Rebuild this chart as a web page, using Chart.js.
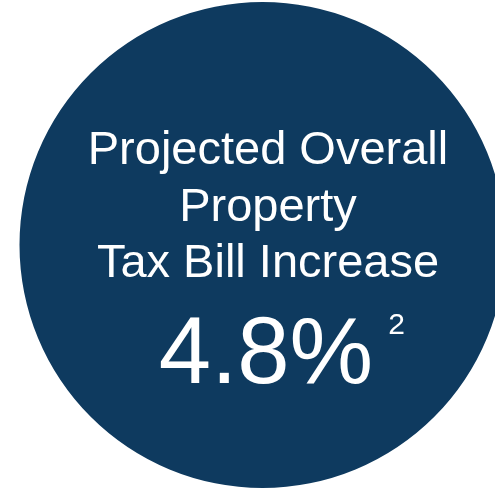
<!DOCTYPE html>
<html>
<head>
<meta charset="utf-8">
<script src="https://cdn.jsdelivr.net/npm/chart.js@4"></script>
<style>
  html, body { margin: 0; padding: 0; background: #fff; overflow: hidden; }
  #wrap { width: 495px; height: 490px; overflow: hidden; position: relative; }
  #taxChart { position: absolute; left: 0; top: 0; }
</style>
</head>
<body>
<div id="wrap"><canvas id="taxChart" width="525" height="490"></canvas></div>
<script>
// data from the picture
const labels = ['Projected Overall Property Tax Bill Increase'];
const values = [4.8];
const titleLines = ['Projected Overall', 'Property', 'Tax Bill Increase'];
const valueText = '4.8%';
const footnote = '2';

const navy = '#0e3a5f';

// writes the label and the big number on top of the circle
const centerText = {
    id: 'centerText',
    afterDraw(chart) {
        const ctx = chart.ctx;
        ctx.save();
        ctx.fillStyle = '#ffffff';
        ctx.textAlign = 'center';
        ctx.textBaseline = 'alphabetic';
        ctx.font = '47px "Liberation Sans", Arial, sans-serif';
        const baselines = [164, 220.5, 277];
        titleLines.forEach((line, i) => ctx.fillText(line, 268, baselines[i]));

        ctx.font = '94px "Liberation Sans", Arial, sans-serif';
        ctx.fillText(valueText, 266, 383);
        const w = ctx.measureText(valueText).width;

        ctx.font = '30px "Liberation Sans", Arial, sans-serif';
        ctx.textAlign = 'left';
        ctx.fillText(footnote, 266 + w / 2 + 15, 334);
        ctx.restore();
    }
};

const ctx = document.getElementById('taxChart').getContext('2d');
const taxChart = new Chart(ctx, {
    type: 'pie',
    data: {
        labels: labels,
        datasets: [{
            data: values,
            backgroundColor: [navy],
            borderWidth: 0
        }]
    },
    options: {
        responsive: false,
        animation: false,
        layout: { padding: 2 },
        plugins: {
            legend: { display: false },
            tooltip: { enabled: false }
        }
    },
    plugins: [centerText]
});
</script>
</body>
</html>
